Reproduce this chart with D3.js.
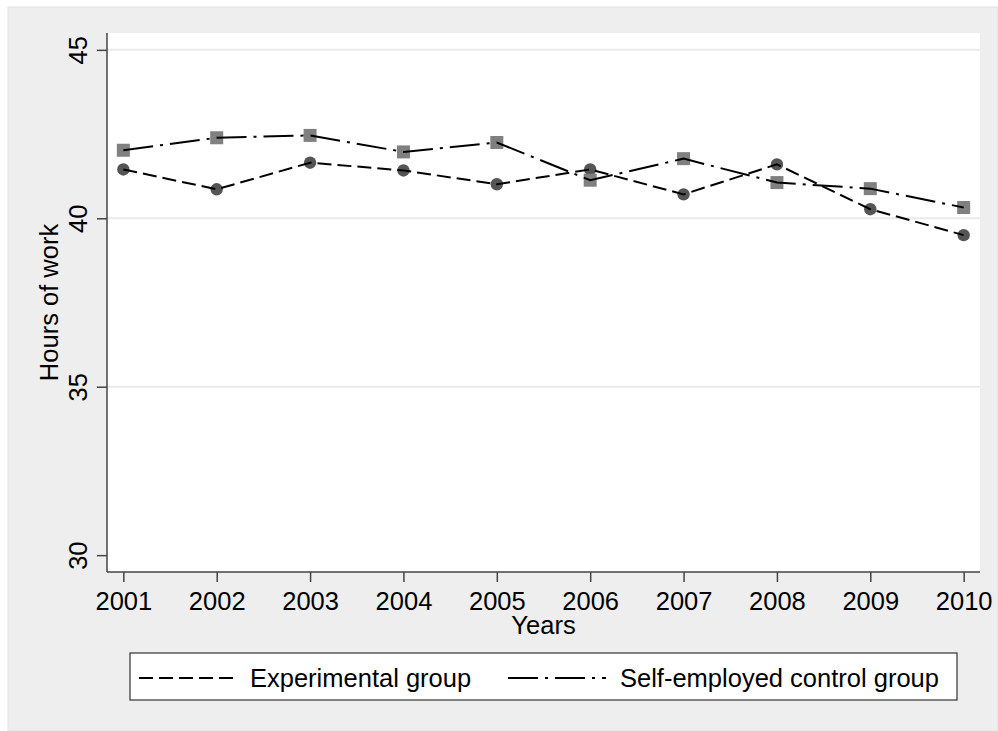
<!DOCTYPE html>
<html><head><meta charset="utf-8">
<script src="https://cdn.jsdelivr.net/npm/d3@7"></script>
<style>body{margin:0;background:#fff}svg{display:block;font-family:"Liberation Sans",Arial,sans-serif}</style>
</head><body><svg id="c" width="998" height="731"></svg>
<script>
const years = [2001,2002,2003,2004,2005,2006,2007,2008,2009,2010];
const experimental = [41.45,40.86,41.65,41.42,41.01,41.45,40.71,41.60,40.27,39.50];
const control = [42.02,42.39,42.46,41.97,42.25,41.13,41.77,41.06,40.88,40.32];
const yTicks = [30,35,40,45];
const gridTicks = [35,40,45];
const seriesNames = ["Experimental group","Self-employed control group"];

const FS = 25.5;
const svg = d3.select("#c");
svg.append("rect").attr("x",8).attr("y",7).attr("width",990).attr("height",724)
  .attr("fill","#eeeeee").attr("stroke","#e2e2e2");
const L=107,R=980,T=33,B=572;
svg.append("rect").attr("x",L).attr("y",T).attr("width",R-L).attr("height",B-T).attr("fill","#fff");

const x = d3.scaleLinear().domain([2000.825,2010.175]).range([L,R]);
const y = d3.scaleLinear().domain([29.5,45.5]).range([B,T]);

svg.append("g").selectAll("line").data(gridTicks).join("line")
  .attr("x1",L).attr("x2",R).attr("y1",d=>y(d)).attr("y2",d=>y(d))
  .attr("stroke","#eaeaea").attr("stroke-width",2);

// axes
const ya = svg.append("g").attr("transform",`translate(${L},0)`)
  .call(d3.axisLeft(y).tickValues(yTicks).tickSize(10).tickFormat(d3.format("d")));
ya.select(".domain").attr("d",`M0,${T}V${B}`);
ya.selectAll("text").attr("font-size",FS).attr("fill","#000")
  .attr("transform","rotate(-90)").attr("x",0).attr("y",-20).attr("dy",0)
  .attr("text-anchor","middle");
const xa = svg.append("g").attr("transform",`translate(0,${B})`)
  .call(d3.axisBottom(x).tickValues(years).tickSize(10).tickFormat(d3.format("d")));
xa.select(".domain").attr("d",`M${L},0H${R}`);
xa.selectAll("text").attr("font-size",FS).attr("fill","#000").attr("dy",0).attr("y",38);
[ya,xa].forEach(a=>{a.selectAll(".domain,line").attr("stroke","#444").attr("stroke-width",1.5);a.attr("font-family",null);});

svg.append("text").attr("x",(L+R)/2).attr("y",634).attr("text-anchor","middle").attr("font-size",FS).text("Years");
svg.append("text").attr("transform",`translate(58,${(T+B)/2}) rotate(-90)`).attr("text-anchor","middle").attr("font-size",FS).text("Hours of work");

const line = d3.line().x((d,i)=>x(years[i])).y(d=>y(d));
const dashes = ["14,6","30,7,3,7"];
svg.append("g").selectAll("circle").data(experimental).join("circle")
  .attr("cx",(d,i)=>x(years[i])).attr("cy",d=>y(d)).attr("r",6.2).attr("fill","#555");
svg.append("g").selectAll("rect").data(control).join("rect")
  .attr("x",(d,i)=>x(years[i])-6.5).attr("y",d=>y(d)-6.5).attr("width",13).attr("height",13).attr("fill","#808080");
[experimental,control].forEach((s,k)=>{
  svg.append("path").attr("d",line(s)).attr("fill","none").attr("stroke","#000").attr("stroke-width",2)
    .attr("stroke-dasharray",dashes[k]);
});

// legend
const lg = svg.append("g");
lg.append("rect").attr("x",130).attr("y",653).attr("width",827).attr("height",47).attr("fill","#fff").attr("stroke","#333").attr("stroke-width",1.2);
const items = [{x0:139,x1:237,tx:250},{x0:508,x1:606,tx:620}];
items.forEach((it,k)=>{
  lg.append("line").attr("x1",it.x0).attr("x2",it.x1).attr("y1",678).attr("y2",678).attr("stroke","#000").attr("stroke-width",2).attr("stroke-dasharray",dashes[k]);
  lg.append("text").attr("x",it.tx).attr("y",687).attr("font-size",FS).text(seriesNames[k]);
});
</script></body></html>
